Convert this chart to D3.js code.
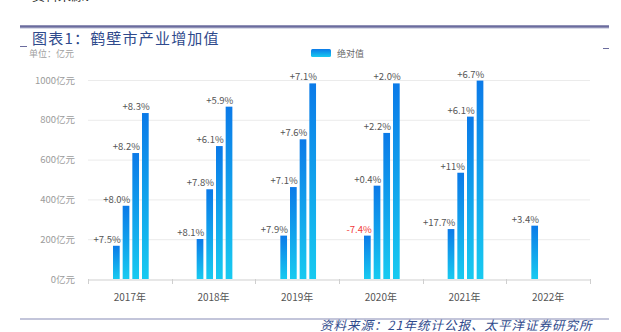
<!DOCTYPE html>
<html>
<head>
<meta charset="utf-8">
<script src="https://cdn.jsdelivr.net/npm/d3@7"></script>
<style>
  body { margin: 0; background: #fff; }
  svg { display: block; font-family: "Noto Sans CJK SC", "Noto Sans", sans-serif; }
</style>
</head>
<body>
<div id="chart"></div>
<script>
const years = ["2017年", "2018年", "2019年", "2020年", "2021年", "2022年"];
// cumulative value per quarter slot (Q1, H1, Q3, full year), 亿元
const q1 = [167, 201, 218, 218, 251, 268];
const h1 = [368, 451, 462, 469, 534, null];
const q3 = [633, 668, 702, 734, 816, null];
const fy = [834, 866, 983, 983, 997, null];
const q1Growth = ["+7.5%", "+8.1%", "+7.9%", "-7.4%", "+17.7%", "+3.4%"];
const h1Growth = ["+8.0%", "+7.8%", "+7.1%", "+0.4%", "+11%", null];
const q3Growth = ["+8.2%", "+6.1%", "+7.6%", "+2.2%", "+6.1%", null];
const fyGrowth = ["+8.3%", "+5.9%", "+7.1%", "+2.0%", "+6.7%", null];
const yTicks = [0, 200, 400, 600, 800, 1000];

const width = 621, height = 332;
const plotLeft = 88, plotRight = 590, plotTop = 80, plotBottom = 279;

const svg = d3.select("#chart").append("svg")
  .attr("width", width)
  .attr("height", height);

const defs = svg.append("defs");
const grad = defs.append("linearGradient")
  .attr("id", "barGrad")
  .attr("x1", 0).attr("y1", 0).attr("x2", 0).attr("y2", 1);
grad.append("stop").attr("offset", "0%").attr("stop-color", "#0b7ae8");
grad.append("stop").attr("offset", "100%").attr("stop-color", "#18caf0");

// sliver of the previous page's text line, cut by the top edge
svg.append("text")
  .attr("x", 32).attr("y", -0.5)
  .attr("font-size", 13)
  .attr("fill", "#333")
  .text("资料来源：Wind");

// header rule
svg.append("line")
  .attr("x1", 20).attr("x2", 609).attr("y1", 26.5).attr("y2", 26.5)
  .attr("stroke", "#6b6c9e").attr("stroke-width", 2.5);
svg.append("line")
  .attr("x1", 20).attr("x2", 609).attr("y1", 28.5).attr("y2", 28.5)
  .attr("stroke", "#d9dbe9").attr("stroke-width", 1);
svg.append("line")
  .attr("x1", 20).attr("x2", 27).attr("y1", 46.5).attr("y2", 46.5)
  .attr("stroke", "#6b6c9e").attr("stroke-width", 1);
svg.append("line")
  .attr("x1", 603).attr("x2", 609).attr("y1", 48.5).attr("y2", 48.5)
  .attr("stroke", "#6b6c9e").attr("stroke-width", 1);

svg.append("text")
  .attr("x", 32).attr("y", 44)
  .attr("font-size", 15)
  .attr("letter-spacing", 1.2)
  .attr("fill", "#2f4a8c")
  .text("图表1：鹤壁市产业增加值");

svg.append("text")
  .attr("x", 29).attr("y", 57)
  .attr("font-size", 9)
  .attr("fill", "#a0a0a0")
  .text("单位：亿元");

// legend
svg.append("rect")
  .attr("x", 311).attr("y", 49).attr("width", 20).attr("height", 8)
  .attr("rx", 1.5)
  .attr("fill", "url(#barGrad)");
svg.append("text")
  .attr("x", 337).attr("y", 56.5)
  .attr("font-size", 9)
  .attr("fill", "#666")
  .text("绝对值");

const x = d3.scaleBand().domain(years).range([plotLeft, plotRight]);
const x1 = d3.scaleBand().domain([0, 1, 2, 3]).range([25, 60.7]).paddingInner(0.307);
const y = d3.scaleLinear().domain([0, 1000]).range([plotBottom, plotTop]);

// gridlines and y labels
svg.append("g")
  .selectAll("line")
  .data(yTicks.slice(1))
  .join("line")
  .attr("x1", plotLeft).attr("x2", plotRight)
  .attr("y1", d => y(d) + 0.5).attr("y2", d => y(d) + 0.5)
  .attr("stroke", "#ebebeb");

svg.append("g")
  .selectAll("text")
  .data(yTicks)
  .join("text")
  .attr("x", 75).attr("y", d => y(d) + 3.5)
  .attr("text-anchor", "end")
  .attr("font-size", 9.5)
  .attr("fill", "#9c9c9c")
  .text(d => d + "亿元");

// x axis
const xAxis = svg.append("g")
  .attr("transform", `translate(0,${plotBottom + 0.5})`)
  .call(d3.axisBottom(x).tickSize(0).tickPadding(14));
xAxis.select(".domain").attr("stroke", "#cfcfcf");
xAxis.selectAll("text")
  .attr("font-size", 10)
  .attr("fill", "#555")
  .attr("font-family", "'Noto Sans CJK SC', sans-serif");

const boundaries = years.map(d => x(d)).concat([plotRight]);
svg.append("g")
  .selectAll("line")
  .data(boundaries)
  .join("line")
  .attr("x1", d => Math.round(d) + 0.5).attr("x2", d => Math.round(d) + 0.5)
  .attr("y1", plotBottom).attr("y2", plotBottom + 5)
  .attr("stroke", "#cfcfcf");

// bars
const series = [q1, h1, q3, fy];
const labels = [q1Growth, h1Growth, q3Growth, fyGrowth];
const rows = [];
years.forEach((yr, i) => {
  series.forEach((s, k) => {
    if (s[i] != null) rows.push({ year: yr, slot: k, value: s[i], label: labels[k][i] });
  });
});

svg.append("g")
  .selectAll("rect")
  .data(rows)
  .join("rect")
  .attr("x", d => x(d.year) + x1(d.slot))
  .attr("y", d => y(d.value))
  .attr("width", x1.bandwidth())
  .attr("height", d => plotBottom - y(d.value))
  .attr("fill", "url(#barGrad)");

svg.append("g")
  .selectAll("text")
  .data(rows)
  .join("text")
  .attr("x", d => x(d.year) + x1(d.slot) + x1.bandwidth() + 1)
  .attr("y", d => y(d.value) - 3)
  .attr("text-anchor", "end")
  .attr("font-size", 9.5)
  .attr("fill", d => d.label.startsWith("-") ? "#f23a3a" : "#555")
  .text(d => d.label);

// footer
svg.append("line")
  .attr("x1", 20).attr("x2", 609).attr("y1", 319).attr("y2", 319)
  .attr("stroke", "#c3c5da").attr("stroke-width", 2);

svg.append("text")
  .attr("x", 320).attr("y", 330)
  .attr("font-size", 12.5)
  .attr("font-style", "italic")
  .attr("letter-spacing", 1)
  .attr("fill", "#2f4a8c")
  .text("资料来源：21年统计公报、太平洋证券研究所");
</script>
</body>
</html>
